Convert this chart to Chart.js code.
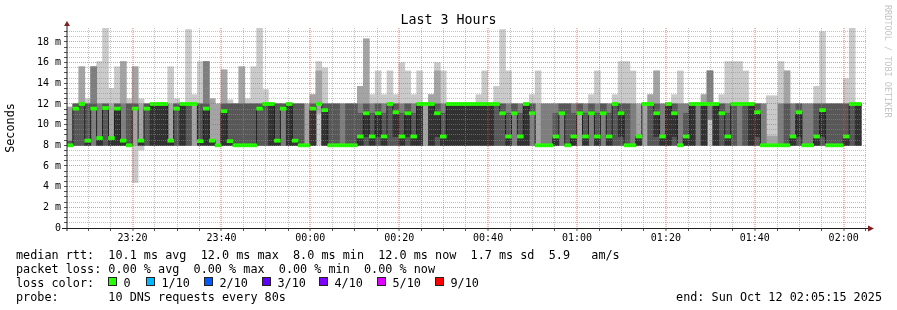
<!DOCTYPE html>
<html>
<head>
<meta charset="utf-8">
<title>Last 3 Hours</title>
<script src="https://cdn.jsdelivr.net/npm/chart.js@4.4.0/dist/chart.umd.min.js"></script>
<style>
  html, body { margin: 0; padding: 0; background: #fff; }
  canvas { display: block; }
</style>
</head>
<body>
<canvas id="smoke" width="897" height="310"></canvas>
<script>
// one step = 80 s, 10 DNS requests per step, sorted round trip times in ms
const stepSec = 80;
const startClock = '23:05:15';
const spanSec = 10800;

const pings = [
  [8,8,8,8,8,8,8.4,8.4,11.7,11.7],
  [8,8,8,8,11.55,11.55,12,12,12,12],
  [8,8,8,8,12,12,12,12,15.6,15.6],
  [8,8,8,8,8,8.45,12,12,12,12.5],
  [8,8,8,11.55,11.55,11.55,12,15.6,15.6,15.6],
  [8,8,8,8,8,8.7,8.7,12,12,16.1],
  [8,8,8,8,11.6,11.6,12,12,12,19.35],
  [8,8,8,8,8,8.7,8.7,8.7,12,13.5],
  [8,8,8,8,8,11.55,12,12,12,15.6],
  [8,8,8,8,8,8.45,8.45,12,16.1,16.1],
  // 10
  [8,8,8,8,8,8,12,12,12,12.5],
  [4.4,8,11.55,11.55,11.55,11.55,12,12,15.6,15.6],
  [7.55,8,8,8,8,8.45,8.45,8.45,12,12.5],
  [8,8,8,8,11.55,11.55,12,12,12,12],
  [8,8,8,8,8,12,12,12,12,12],
  [8,8,8,8,8,12,12,12,12,12],
  [8,8,8,8,8,12,12,12,12,12],
  [8,8,8,8,8,8.45,8.45,8.45,12,15.6],
  [8,8,8,8,11.55,11.55,12,12,12,12.5],
  [8,8,8,8,8,12,12,12,12,12],
  // 20
  [8,8,8,8,12,12,12,12,12,19.2],
  [8,8,12,12,12,12,12,12,12,12.9],
  [8,8,8,8,8,8.4,12,12,12,16.1],
  [8,8,8,8,8,11.55,12,16.1,16.1,16.1],
  [8,8,8,8,8,8.45,8.45,8.45,12.5,12.5],
  [8,8,8,8,8,8,8,8,12,12],
  [8,8,8,8,8,11.3,12,12,15.3,15.3],
  [8,8,8,8,8,8.4,12,12,12,12.4],
  [8,8,8,8,8,8,12,12,12,12],
  [8,8,8,8,8,8,12,12,15.6,15.6],
  // 30
  [8,8,8,8,8,8,12,12,12,12.5],
  [8,8,8,8,8,8,12,12,12,15.6],
  [8,8,8,8,11.55,11.55,12,12,12,19.35],
  [8,8,8,8,12,12,12,12,12,13.4],
  [8,8,8,8,8,12,12,12,12,12],
  [8,8,8,8,8,8.45,12,12,12,12],
  [8,8,8,11.55,11.55,11.55,12,12,12,12],
  [8,8,8,8,8,12,12,12,12,12],
  [8,8,8,8,8,8.45,12,12,12,12],
  [8,8,8,8,8,8,12,12,12,12],
  // 40
  [8,8,8,8,8,8,8,8,12,12],
  [8,8,8,8,8,11.55,12,12,12.9,12.9],
  [8,11.1,12,12,12,12,12,12,15.2,16.1],
  [8,8,8,8,8,11.4,12,12,12,15.5],
  [8,8,8,8,8,8,12,12,12,12],
  [8,8,8,8,8,8,12,12,12,12],
  [8,8,8,8,8,8,8,12,12,12],
  [8,8,8,8,8,8,12,12,12,12],
  [8,8,8,8,8,8,12,12,12,12],
  [8,8,8,8,8,8.85,11.1,12,13.7,13.7],
  // 50
  [8,8,8,8,8.85,11.1,12,12,18.3,18.3],
  [8,8,8,8,8,8.85,11.1,12,12,12.9],
  [8,8,8,8,8.85,11.1,12,12,12,15.2],
  [8,8,8,8,8,8.85,11.1,12,12,12.9],
  [8,8,8,8,12,12,12,12,12,15.2],
  [8,8,8,8,8.85,11.2,12,12,12,12.9],
  [8,8,8,8,8,8.85,11.1,12,12,16],
  [8,8,8,8,8.85,11.1,12,12,12,15.2],
  [8,8,8,8,8,8.85,11.1,12,12,12.9],
  [8,8,8,8,8,12,12,12,12,15.2],
  // 60
  [8,8,12,12,12,12,12,12,12,12],
  [8,8,8,8,8,12,12,12,12.9,12.9],
  [8,8,8,8,8.85,11.1,12,12,15.2,16],
  [8,8,8,8,8,8.85,11.1,12,12,15.2],
  [8,8,8,8,8,12,12,12,12,12],
  [8,8,8,8,8,12,12,12,12,12],
  [8,8,8,8,8,12,12,12,12,12],
  [8,8,8,8,8,12,12,12,12,12],
  [8,8,8,8,8,12,12,12,12,12],
  [8,8,8,8,8,12,12,12,12,12.9],
  // 70
  [8,8,8,8,8,12,12,12,12,15.2],
  [8,8,8,8,8,12,12,12,12,12],
  [8,8,8,8,12,12,12,12,12,13.7],
  [8,8,8,8,11.1,11.1,12,12,12,19.2],
  [8,8,8,8,8,8.85,11.1,12,12,15.2],
  [8,8,8,11.1,11.1,11.1,12,12,12,12],
  [8,8,8,8,8,8.85,11.1,12,12,12],
  [8,8,8,8,8,12,12,12,12,12],
  [8,8,8,11.1,11.1,11.1,12,12,12,12.9],
  [8,8,8,8,8,8,8,8,12,15.2],
  // 80
  [8,8,8,8,8,8,8,12,12,12],
  [8,8,8,8,8,8,8,12,12,12],
  [8,8,8,8,8,8.85,11.1,12,12,12],
  [8,8,8,11.1,11.1,11.1,12,12,12,12],
  [8,8,8,8,8,8,12,12,12,12],
  [8,8,8,8,8,8.85,11.1,12,12,12],
  [8,8,11.1,11.1,11.1,11.1,12,12,12,12],
  [8,8,8,8,8,8.85,11.1,12,12,12],
  [8,8,8,11.1,11.1,11.1,12,12,12,12.9],
  [8,8,8,8,8,8.85,11.1,12,12,15.2],
  // 90
  [8,8,8,11.1,11.1,11.1,12,12,12,12],
  [8,8,8,8,8,8.85,11.1,12,12,12],
  [8,8,8,8,12,12,12,12,12,12.9],
  [8,8,8,8,8.85,11.1,12,12,12,16.1],
  [8,8,8,8,8,8,12,12,12,16.1],
  [8,8,8,8,8,8,8,12,12,15.2],
  [8,8,8,8,8,8.85,8.85,8.85,12,12],
  [8,8,12,12,12,12,12,12,12,12],
  [8,8,8,8,12,12,12,12,12.9,12.9],
  [8,8,8,8,8.85,11.1,12,12,15.2,15.2],
  // 100
  [8,8,8,8,8,8.85,8.85,12,12,12],
  [8,8,8,8,8,12,12,12,12,12],
  [8,8,8,8,8.85,11.1,12,12,12,12.9],
  [8,8,8,8,8,8,8,12,12,15.2],
  [8,8,8,8,8,8.85,11.1,12,12,12],
  [8,8,8,8,8,12,12,12,12,12],
  [8,8,8,12,12,12,12,12,12,12],
  [8,8,8,8,8,12,12,12,12.9,12.9],
  [8,10.5,10.5,12,12,12,12,15.2,15.2,15.2],
  [8,8,8,8,8,12,12,12,12,12],
  // 110
  [8,8,8,8,11.1,11.1,12,12,12,12.9],
  [8,8,8,8,8,8.85,11.1,12,12,16.1],
  [8,8,8,8,12,12,12,12,12,16.1],
  [8,8,8,12,12,12,12,12,12,16.1],
  [8,8,8,8,12,12,12,12,12,15.2],
  [8,8,8,8,8,12,12,12,12,12],
  [8,8,8,8,8.85,11.2,12,12,12,12],
  [8,8,8,8,8,8,8,12,12,12],
  [8,8,8,8,8,8,8,8,8.9,12.8],
  [8,8,8,8,8,8,8,8,8.9,12.8],
  // 120
  [8,8,8,8,8,8,8,12,12,16.1],
  [8,8,8,8,8,8,12,12,15.2,15.2],
  [8,8,8,8,8,8.85,8.85,12,12,12],
  [8,8,8,8,8.85,11.2,12,12,12,12],
  [8,8,8,8,8,8,8,12,12,12],
  [8,8,8,8,8,8,8,12,12,12],
  [8,8,8,8,8,8.85,12,12,12,13.7],
  [8,8,8,8,8.85,11.4,12,12,12,19],
  [8,8,8,8,8,8,12,12,12,12],
  [8,8,8,8,8,8,12,12,12,12],
  // 130
  [8,8,8,8,8,8,12,12,12,12],
  [8,8,8,8,8,8.85,12,12,12,14.45],
  [8,8,8,8,12,12,12,12,12,19.35],
  [8,8,8,8,8,12,12,12,12,12],
  null
];

const timeLabels = ['23:20', '23:40', '00:00', '00:20', '00:40', '01:00', '01:20', '01:40', '02:00'];
const yTickLabels = ['0', '2 m', '4 m', '6 m', '8 m', '10 m', '12 m', '14 m', '16 m', '18 m'];

const rttLine = 'median rtt:  10.1 ms avg  12.0 ms max  8.0 ms min  12.0 ms now  1.7 ms sd  5.9   am/s';
const lossLine = 'packet loss: 0.00 % avg  0.00 % max  0.00 % min  0.00 % now';
const lossLabels = ['0', '1/10', '2/10', '3/10', '4/10', '5/10', '9/10'];
const lossColors = ['#26ff00', '#00b8ff', '#0059ff', '#5e00ff', '#7e00ff', '#dd00ff', '#ff0000'];
const probeLine = 'probe:       10 DNS requests every 80s';
const endLine = 'end: Sun Oct 12 02:05:15 2025';

// smoke shades, outer band first
const smokeColors = ['#cacaca', '#a4a4a4', '#7e7e7e', '#585858', '#323232'];
const minorGrid = 'rgba(143,143,143,0.55)';
const majorGrid = 'rgba(222,79,79,0.6)';
const majorGridWide = 'rgba(230,70,70,0.38)';
const mono = "'DejaVu Sans Mono', monospace";
const swatchX = [108, 146, 204, 262, 319, 377, 435];

Chart.defaults.font.family = mono;
Chart.defaults.color = '#000';

const xs = pings.map((p, k) => k * stepSec + stepSec / 2);
const median = pings.map(p => (p ? p[5] : null));

function clockOf(sec) {
  const [h, m, s] = startClock.split(':').map(Number);
  const t = (h * 3600 + m * 60 + s + sec) % 86400;
  const pad = n => String(n).padStart(2, '0');
  return pad(Math.floor(t / 3600)) + ':' + pad(Math.floor((t % 3600) / 60));
}

// ticks every 5 minutes on the clock
const xTicks = [];
for (let v = 285; v <= spanSec; v += 300) xTicks.push(v);
const xMajor = xTicks.map(v => timeLabels.includes(clockOf(v)));
const yTicks = [];
for (let v = 0; v <= 19; v += 0.5) yTicks.push(v);

const smokeSets = smokeColors.map((col, i) => ({
  type: 'bar',
  data: pings
    .map((p, k) => (p && p[9 - i] > p[i] ? { x: xs[k], y: [p[i], p[9 - i]] } : null))
    .filter(Boolean),
  backgroundColor: col,
  grouped: false,
  barPercentage: 1,
  categoryPercentage: 1,
  order: 6 - i
}));

const medianBand = {
  type: 'bar',
  data: median
    .map((m, k) => (m == null ? null : { x: xs[k], y: [m - 0.15, m + 0.15] }))
    .filter(Boolean),
  backgroundColor: '#26ff00',
  grouped: false,
  barPercentage: 1,
  categoryPercentage: 1,
  order: 0
};

const medianLine = {
  type: 'line',
  data: median.map((m, k) => ({ x: xs[k], y: m })),
  borderColor: '#202020',
  borderWidth: 1,
  pointRadius: 0,
  stepped: 'middle',
  order: 1
};

const decor = {
  id: 'decor',
  afterDraw(chart) {
    const ctx = chart.ctx;
    const a = chart.chartArea;
    ctx.save();

    // axis lines
    ctx.strokeStyle = '#1f1f1f';
    ctx.lineWidth = 1;
    ctx.beginPath();
    ctx.moveTo(a.left, a.bottom + 3);
    ctx.lineTo(a.left, a.top - 5);
    ctx.moveTo(a.left - 5, a.bottom + 0.5);
    ctx.lineTo(a.right + 2, a.bottom + 0.5);
    ctx.stroke();

    // arrows
    ctx.fillStyle = '#801f1f';
    ctx.beginPath();
    ctx.moveTo(a.left - 3, a.top - 2);
    ctx.lineTo(a.left + 3, a.top - 2);
    ctx.lineTo(a.left, a.top - 7);
    ctx.closePath();
    ctx.fill();
    ctx.beginPath();
    ctx.moveTo(a.right + 1, a.bottom - 2.5);
    ctx.lineTo(a.right + 1, a.bottom + 3.5);
    ctx.lineTo(a.right + 7, a.bottom + 0.5);
    ctx.closePath();
    ctx.fill();

    // title
    ctx.fillStyle = '#000';
    ctx.font = '13.3px ' + mono;
    ctx.textAlign = 'center';
    ctx.textBaseline = 'alphabetic';
    ctx.fillText('Last 3 Hours', 448.5, 24);

    // legend block
    ctx.font = '11.8px ' + mono;
    ctx.textAlign = 'left';
    ctx.fillText(rttLine, 16, 258.5);
    ctx.fillText(lossLine, 16, 272.5);
    ctx.fillText('loss color:', 16, 286.5);
    lossLabels.forEach((lab, i) => {
      const x = swatchX[i];
      ctx.fillStyle = lossColors[i];
      ctx.fillRect(x + 0.5, 277.5, 8, 8);
      ctx.strokeStyle = '#222';
      ctx.strokeRect(x + 0.5, 277.5, 8, 8);
      ctx.fillStyle = '#000';
      ctx.fillText(lab, x + 15.5, 286.5);
    });
    ctx.fillText(probeLine, 16, 300.5);
    ctx.textAlign = 'right';
    ctx.fillText(endLine, 882, 300.5);

    // watermark
    ctx.translate(885, 5);
    ctx.rotate(Math.PI / 2);
    ctx.textAlign = 'left';
    ctx.fillStyle = '#c4c4c4';
    ctx.font = '8.5px ' + mono;
    ctx.fillText('RRDTOOL / TOBI OETIKER', 0, 0);
    ctx.restore();
  }
};

new Chart(document.getElementById('smoke'), {
  type: 'bar',
  data: { datasets: [medianBand, medianLine, ...smokeSets] },
  options: {
    responsive: false,
    devicePixelRatio: 1,
    animation: false,
    layout: { padding: { left: 0, right: 30, top: 28, bottom: 0 }, autoPadding: false },
    plugins: { legend: { display: false }, tooltip: { enabled: false }, title: { display: false } },
    scales: {
      x: {
        type: 'linear',
        min: 0,
        max: spanSec,
        offset: false,
        afterBuildTicks: s => { s.ticks = xTicks.map(v => ({ value: v })); },
        afterFit: s => { s.height = 82; },
        ticks: {
          autoSkip: false,
          maxRotation: 0,
          padding: 1,
          font: { size: 10 },
          color: '#000',
          callback: (v, i) => (xMajor[i] ? clockOf(v) : '')
        },
        grid: {
          offset: false,
          z: 1,
          lineWidth: c => (xMajor[c.index] ? 2 : 1),
          color: c => (xMajor[c.index] ? majorGridWide : minorGrid),
          tickColor: '#555',
          tickWidth: 1,
          tickLength: 3
        },
        border: { display: false, dash: [1, 1] }
      },
      y: {
        type: 'linear',
        min: 0,
        max: 19.35,
        afterBuildTicks: s => { s.ticks = yTicks.map(v => ({ value: v })); },
        afterFit: s => { s.width = 67; },
        ticks: {
          autoSkip: false,
          padding: 3,
          font: { size: 10 },
          color: '#000',
          callback: v => (v % 2 === 0 ? yTickLabels[v / 2] : '')
        },
        grid: {
          z: 1,
          lineWidth: 1,
          color: c => (c.index % 4 === 0 ? majorGrid : minorGrid),
          tickColor: '#555',
          tickLength: 3
        },
        border: { display: false, dash: [1, 1] },
        title: {
          display: true,
          text: 'Seconds',
          font: { size: 11.8 },
          color: '#000',
          padding: { top: 4, bottom: 0 }
        }
      }
    }
  },
  plugins: [decor]
});
</script>
</body>
</html>
